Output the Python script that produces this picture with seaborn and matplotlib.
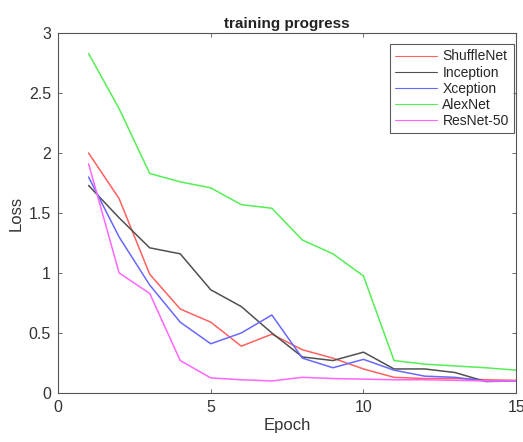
import numpy as np
import pandas as pd
import matplotlib
matplotlib.use("Agg")
import matplotlib.pyplot as plt
import seaborn as sns

epochs = list(range(1, 16))
models = ["ShuffleNet", "Inception", "Xception", "AlexNet", "ResNet-50"]

shufflenet = [2.00, 1.62, 0.99, 0.70, 0.59, 0.39, 0.49, 0.36, 0.29, 0.20, 0.13, 0.12, 0.12, 0.11, 0.105]
inception = [1.73, 1.46, 1.21, 1.16, 0.86, 0.72, 0.50, 0.30, 0.27, 0.34, 0.20, 0.20, 0.17, 0.095, 0.10]
xception = [1.80, 1.30, 0.90, 0.59, 0.41, 0.50, 0.65, 0.29, 0.21, 0.28, 0.19, 0.14, 0.13, 0.10, 0.10]
alexnet = [2.83, 2.37, 1.83, 1.76, 1.71, 1.57, 1.54, 1.275, 1.16, 0.975, 0.27, 0.24, 0.225, 0.21, 0.19]
resnet50 = [1.91, 1.00, 0.83, 0.27, 0.125, 0.11, 0.10, 0.13, 0.12, 0.115, 0.11, 0.11, 0.105, 0.10, 0.10]

colors = ["#ff6060", "#505050", "#6868ff", "#55ee55", "#ff66ff"]

df = pd.DataFrame({
    "Epoch": epochs * len(models),
    "Loss": shufflenet + inception + xception + alexnet + resnet50,
    "Model": [m for m in models for _ in epochs],
})

sns.set_theme(style="white")
plt.rcParams["font.family"] = ["Liberation Sans", "DejaVu Sans"]

fig = plt.figure(figsize=(5.23, 4.42), dpi=100)
ax = fig.add_axes([0.111, 0.111, 0.876, 0.814])

sns.lineplot(data=df, x="Epoch", y="Loss", hue="Model", hue_order=models,
             palette=colors, linewidth=1.1, ax=ax)

ax.set_xlim(0, 15)
ax.set_ylim(0, 3)
ax.set_xticks([0, 5, 10, 15])
ax.set_yticks([0, 0.5, 1, 1.5, 2, 2.5, 3])
ax.set_yticklabels(["0", "0.5", "1", "1.5", "2", "2.5", "3"])
ax.set_title("training progress", fontsize=11, fontweight="bold", color="#222222", pad=4)
ax.set_xlabel("Epoch", fontsize=12, color="#333333", labelpad=2)
ax.set_ylabel("Loss", fontsize=12, color="#333333", labelpad=4)

for side in ["top", "bottom", "left", "right"]:
    ax.spines[side].set_visible(True)
    ax.spines[side].set_color("#555555")
    ax.spines[side].set_linewidth(0.8)
ax.tick_params(direction="in", length=3, width=0.6, colors="#555555",
               labelcolor="#333333", labelsize=11.5, top=True, right=True,
               bottom=True, left=True, pad=5)

leg = ax.legend(loc="upper right", bbox_to_anchor=(0.996, 0.97), fontsize=10,
                frameon=True, fancybox=False, borderaxespad=0.0,
                handlelength=3.0, handletextpad=0.4,
                labelspacing=0.15, borderpad=0.4)
leg.get_frame().set_edgecolor("#333333")
leg.get_frame().set_linewidth(0.8)
for line in leg.get_lines():
    line.set_linewidth(0.8)

fig.savefig("out.png", dpi=100)
